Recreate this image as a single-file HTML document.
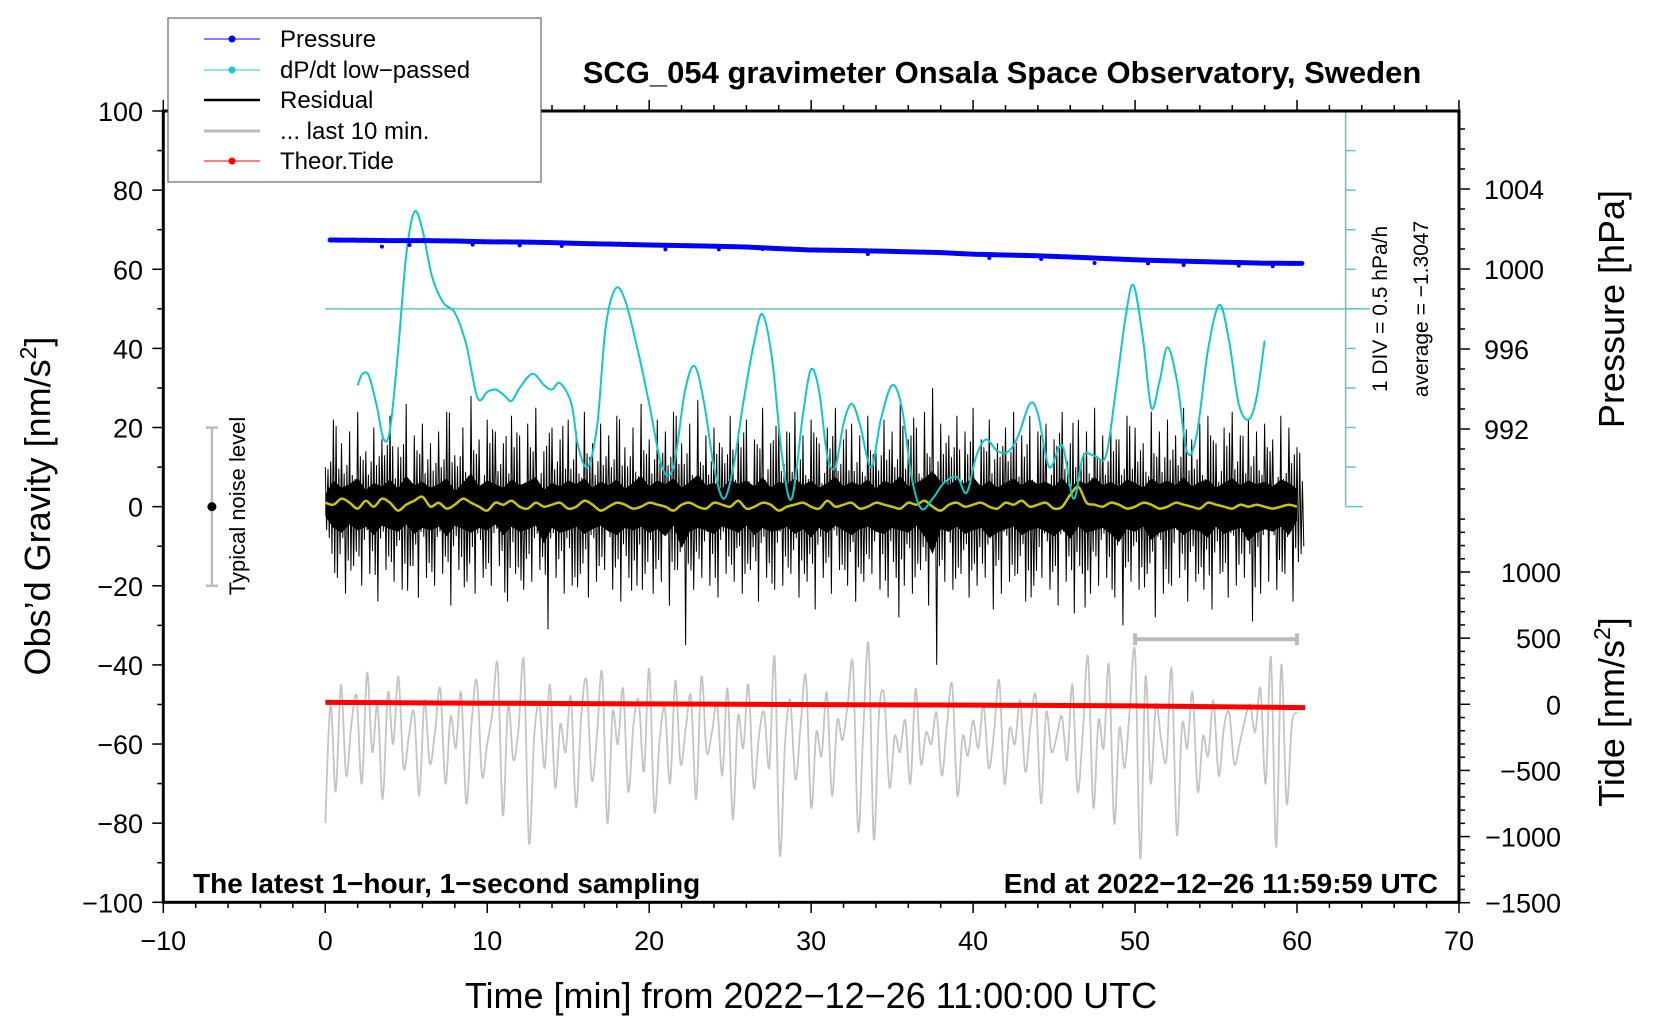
<!DOCTYPE html>
<html><head><meta charset="utf-8">
<style>
html,body{margin:0;padding:0;background:#fff;}
svg{display:block;font-family:"Liberation Sans",Arial,sans-serif;}
</style></head>
<body>
<svg id="chart" width="1660" height="1020" viewBox="0 0 1660 1020" xmlns="http://www.w3.org/2000/svg">
<rect width="1660" height="1020" fill="#fff"/>
<g id="ticks"></g>
<g id="marks"></g>
<rect x="163.3" y="111" width="1295.7" height="791.3" fill="none" stroke="#000" stroke-width="3"/>
<text x="1002" y="83" font-size="31" font-weight="bold" text-anchor="middle">SCG_054 gravimeter Onsala Space Observatory, Sweden</text>
<text transform="translate(50,506) rotate(-90)" font-size="36" text-anchor="middle">Obs’d Gravity [nm/s<tspan font-size="23" dy="-14">2</tspan><tspan dy="14">]</tspan></text>
<text x="811" y="1008" font-size="36" text-anchor="middle">Time [min] from 2022−12−26 11:00:00 UTC</text>
<text transform="translate(1624,309) rotate(-90)" font-size="36" text-anchor="middle">Pressure [hPa]</text>
<text transform="translate(1624,712) rotate(-90)" font-size="36" text-anchor="middle">Tide [nm/s<tspan font-size="23" dy="-14">2</tspan><tspan dy="14">]</tspan></text>
<text x="193" y="893" font-size="28" font-weight="bold">The latest 1−hour, 1−second sampling</text>
<text x="1438" y="893" font-size="28" font-weight="bold" text-anchor="end">End at 2022−12−26 11:59:59 UTC</text>
<text transform="translate(1387,309) rotate(-90)" font-size="21" text-anchor="middle">1 DIV = 0.5 hPa/h</text>
<text transform="translate(1428,309) rotate(-90)" font-size="21" text-anchor="middle">average = −1.3047</text>
<text transform="translate(245,506) rotate(-90)" font-size="22" text-anchor="middle">Typical noise level</text>
<g>
<rect x="168" y="18" width="373" height="164" fill="#fff" stroke="#666" stroke-width="1.2"/>
<g><line x1="204" y1="39" x2="260" y2="39" stroke="#00f" stroke-width="1"/><circle cx="232" cy="39" r="3.5" fill="#00f"/><text x="280" y="47" font-size="24">Pressure</text></g>
<g><line x1="204" y1="70" x2="260" y2="70" stroke="#2cc" stroke-width="1"/><circle cx="232" cy="70" r="3.5" fill="#1cc"/><text x="280" y="78" font-size="24">dP/dt low−passed</text></g>
<g><line x1="204" y1="100" x2="260" y2="100" stroke="#000" stroke-width="2.5"/><text x="280" y="108" font-size="24">Residual</text></g>
<g><line x1="204" y1="131" x2="260" y2="131" stroke="#bbb" stroke-width="3"/><text x="280" y="139" font-size="24">... last 10 min.</text></g>
<g><line x1="204" y1="161" x2="260" y2="161" stroke="#f00" stroke-width="1"/><circle cx="232" cy="161" r="3.5" fill="#f00"/><text x="280" y="169" font-size="24">Theor.Tide</text></g>
</g>
</svg>
<script>
// ---- data ----
const xTicks = [-10,0,10,20,30,40,50,60,70];
const yTicks = [100,80,60,40,20,0,-20,-40,-60,-80,-100];
const pTicks = [1004,1000,996,992];
const tTicks = [1000,500,0,-500,-1000,-1500];
const pressTimes = [0.3,2,4,6,8,10,12,14,16,18,20,22,24,26,28,30,32,34,36,38,40,42,44,46,48,50,52,54,56,58,60.3];
const pressVals = [1001.45,1001.44,1001.42,1001.42,1001.40,1001.36,1001.35,1001.32,1001.27,1001.24,1001.20,1001.17,1001.14,1001.10,1001.02,1000.95,1000.93,1000.90,1000.86,1000.82,1000.74,1000.70,1000.66,1000.60,1000.53,1000.46,1000.41,1000.37,1000.33,1000.29,1000.28];
const pressOutT = [3.5,5.2,9.1,12,14.6,21,24.3,27,33.5,41,44.2,47.5,50.8,53,56.4,58.5];
const pressOutV = [1001.12,1001.2,1001.22,1001.18,1001.15,1000.98,1000.98,1001.00,1000.75,1000.55,1000.5,1000.30,1000.28,1000.20,1000.17,1000.14];
const dpTimes = [2.0,2.3,2.7,3.2,3.6,4.0,4.5,5.0,5.5,6.0,6.6,7.3,8.0,8.7,9.4,10.0,10.5,11.0,11.5,12.0,12.8,13.5,14.0,14.5,15.2,15.6,16.2,16.8,17.3,17.9,18.5,19.3,20.0,20.8,21.5,22.2,22.8,23.4,24.0,24.6,25.2,25.8,26.5,27.0,27.6,28.2,28.8,29.5,30.0,30.5,31.0,31.5,32.0,32.5,33.0,33.7,34.3,35.0,35.6,36.2,36.8,37.5,38.2,39.0,39.6,40.2,40.8,41.5,42.2,42.8,43.5,44.0,44.7,45.5,46.2,46.8,47.5,48.2,48.8,49.4,49.9,50.5,51.0,51.5,52.0,52.6,53.2,53.8,54.5,55.2,55.8,56.4,57.0,57.5,58.0];
const dpGrav = [30.7,33.6,33,25,17,19.5,39.5,63.5,74.5,70,58,51.5,49,41,27.5,29,29.6,28.3,26.7,30,33.6,30.7,29.6,31.2,26,15.5,10,21,45,55,52.3,39.5,26,10,10,29,35.5,26,10,2,10,26,42,48.6,37,12.8,2,23.5,34.7,29,12.8,10,21,26,21,10,22,30.7,25,7.5,-0.5,2,6,7.5,3.5,12.8,17,14,14,18,26,23.5,10,15.5,2,12.8,12.8,12.8,29,47.5,56,42,25,31.5,40.3,31.5,14,18,39.5,51,42,26,22,27.5,42];
const resHi = [10,22,16,19,24,14,20,17,23,15,26,18,21,16,19,24,13,20,28,17,22,19,16,23,18,21,25,14,20,17,22,19,24,16,21,18,23,15,20,26,17,22,19,24,16,21,27,18,20,15,23,19,22,17,25,16,21,19,24,18,22,16,20,25,17,21,18,23,15,22,19,26,17,20,24,30,21,18,23,19,25,17,22,16,20,24,18,23,19,21,17,24,16,22,19,25,18,21,17,23,20,16,24,19,22,18,25,17,21,23,16,20,24,18,22,19,21,17,23,20,15];
const resLo = [-8,-18,-22,-15,-20,-17,-24,-16,-19,-21,-15,-23,-18,-20,-17,-25,-16,-19,-22,-18,-20,-15,-24,-17,-21,-19,-16,-31,-18,-22,-20,-17,-23,-19,-16,-21,-24,-18,-20,-17,-22,-19,-25,-16,-35,-21,-18,-20,-23,-17,-19,-22,-16,-24,-18,-21,-20,-17,-23,-19,-26,-18,-22,-16,-20,-24,-19,-17,-21,-23,-18,-20,-22,-16,-25,-40,-19,-21,-17,-23,-20,-18,-26,-22,-19,-17,-24,-20,-18,-21,-25,-19,-27,-17,-22,-20,-18,-23,-30,-19,-21,-17,-28,-22,-20,-18,-24,-19,-21,-26,-17,-23,-20,-18,-29,-22,-19,-21,-17,-24,-12];
const resSmooth = [1,0.5,2,1,-0.5,1.5,0,2,1,-1,0.5,1.5,2.5,0,1,-0.5,0.5,2,1,0,-1,1,0.5,1.5,0,-0.5,1,0,0.5,1,-0.5,0,1.5,0.5,-1,0,1,0.5,-0.5,0,1,0.5,0,-1,0.5,1,0,-0.5,1,0.5,0,1.5,-0.5,0,1,0.5,-1,0,0.5,1,0,-0.5,1.5,0,0.5,1,-0.5,0,1,0.5,0,-0.5,1,0.5,1.5,0,-1,0.5,1,0,0.5,1,0,-0.5,1,0.5,1.5,0,0.5,1,-0.5,0,3,5,1,0.5,0,1,0.5,-0.5,0,1,0.5,-0.5,0,1,0.5,0,-0.5,1,0.5,0,-0.5,0.5,0,0.5,0,-0.5,0,0.5,0];
const last10 = [-80,-50,-72,-45,-68,-55,-48,-70,-42,-62,-50,-74,-47,-60,-43,-66,-58,-52,-73,-49,-65,-57,-46,-70,-53,-61,-47,-75,-55,-44,-68,-60,-52,-40,-78,-50,-64,-56,-39,-85,-58,-50,-66,-45,-71,-55,-62,-48,-76,-53,-44,-69,-58,-42,-80,-52,-60,-46,-72,-55,-49,-67,-41,-77,-59,-51,-70,-44,-65,-56,-48,-74,-43,-62,-57,-50,-68,-46,-79,-53,-61,-45,-71,-58,-52,-66,-38,-88,-60,-49,-69,-55,-43,-76,-57,-63,-47,-73,-54,-59,-50,-40,-82,-56,-35,-84,-52,-48,-71,-58,-62,-54,-70,-46,-65,-57,-60,-52,-68,-55,-45,-73,-58,-63,-54,-61,-50,-66,-57,-44,-70,-56,-60,-49,-67,-55,-48,-75,-52,-62,-58,-53,-64,-45,-72,-57,-38,-76,-54,-61,-40,-80,-56,-66,-51,-37,-89,-43,-70,-50,-59,-64,-41,-83,-55,-61,-47,-72,-58,-63,-49,-68,-56,-52,-65,-60,-54,-50,-57,-46,-70,-38,-86,-40,-75,-55,-52];
const tideTimes = [0,10,20,30,40,50,60.5];
const tideVals = [14,8,3,-2,-6,-12,-25];

// ---- scales ----
const X = t => 163.3 + (t + 10) * 16.196;
const Y = g => 111 + (100 - g) * 3.9565;
const YP = p => 269 - (p - 1000) * 20;
const YT = v => 704.3 - v * 0.13228;
const NS = 'http://www.w3.org/2000/svg';
function mk(parent, tag, attrs){const e=document.createElementNS(NS,tag);for(const k in attrs)e.setAttribute(k,attrs[k]);parent.appendChild(e);return e;}
function smoothPath(P){
  let s='M'+P[0][0].toFixed(1)+' '+P[0][1].toFixed(1);
  for(let i=0;i<P.length-1;i++){
    const p0=P[Math.max(0,i-1)],p1=P[i],p2=P[i+1],p3=P[Math.min(P.length-1,i+2)];
    const c1x=p1[0]+(p2[0]-p0[0])/6,c1y=p1[1]+(p2[1]-p0[1])/6;
    const c2x=p2[0]-(p3[0]-p1[0])/6,c2y=p2[1]-(p3[1]-p1[1])/6;
    s+='C'+c1x.toFixed(1)+' '+c1y.toFixed(1)+' '+c2x.toFixed(1)+' '+c2y.toFixed(1)+' '+p2[0].toFixed(1)+' '+p2[1].toFixed(1);
  }
  return s;
}
const ticks = document.getElementById('ticks');
const marks = document.getElementById('marks');

for (let t=-10;t<=70;t+=2){
  const maj = t%10===0, len = maj?11:6;
  const tb = mk(ticks,'line',{x1:X(t),x2:X(t),y1:902,y2:902+len,stroke:'#000','stroke-width':1.5});
  
  
  const tt = mk(ticks,'line',{x1:X(t),x2:X(t),y1:111,y2:111-len,stroke:'#000','stroke-width':1.5});
  
  
}
xTicks.forEach(t=>{
  const e = mk(ticks,'text',{x:X(t),y:950,'font-size':27,'text-anchor':'middle'});
  e.textContent = t<0 ? '−'+Math.abs(t) : String(t);
  
  
});
for (let g=-100; g<=100; g+=10){
  const maj = g%20===0;
  const e = mk(ticks,'line',{x1:163.3-(maj?11:6),x2:163.3,y1:Y(g),y2:Y(g),stroke:'#000','stroke-width':1.5});
  
  
}
yTicks.forEach(g=>{
  const e = mk(ticks,'text',{x:143,y:Y(g)+10,'font-size':27,'text-anchor':'end'});
  e.textContent = g<0 ? '−'+Math.abs(g) : String(g);
  
  
});
for (let p=989; p<=1007; p++){
  const maj = p%4===0;
  const e = mk(ticks,'line',{x1:1459,x2:1459+(maj?11:6),y1:YP(p),y2:YP(p),stroke:'#000','stroke-width':1.5});
  
  
}
pTicks.forEach(p=>{
  const e = mk(ticks,'text',{x:1484,y:YP(p)+10,'font-size':27});
  e.textContent = String(p);
  
  
});
for (let v=-1500; v<=1400; v+=100){
  const maj = v%500===0;
  const e = mk(ticks,'line',{x1:1459,x2:1459+(maj?11:6),y1:YT(v),y2:YT(v),stroke:'#000','stroke-width':1.5});
  
  
}
tTicks.forEach(v=>{
  const e = mk(ticks,'text',{x:1561,y:YT(v)+10,'font-size':27,'text-anchor':'end'});
  e.textContent = v<0 ? '−'+Math.abs(v) : String(v);
  
  
});
const cax = mk(ticks,'line',{x1:X(63),x2:X(63),y1:Y(100),y2:Y(0),stroke:'#5cc8c0','stroke-width':1.5});


for (let g=0; g<=100; g+=10){
  const maj = (g===0||g===100);
  const e = mk(ticks,'line',{x1:X(63),x2:X(63)+(maj?17:10),y1:Y(g),y2:Y(g),stroke:'#5cc8c0','stroke-width':1.5});
  
  
}
const avg = mk(marks,'line',{x1:X(0),x2:X(64.5),y1:Y(50),y2:Y(50),stroke:'#5cc8c0','stroke-width':1.5});



const nb = mk(marks,'g',{stroke:'#bbb','stroke-width':2.5});


mk(nb,'line',{x1:X(-7),x2:X(-7),y1:Y(20),y2:Y(-20)});
mk(nb,'line',{x1:X(-7)-6,x2:X(-7)+6,y1:Y(20),y2:Y(20)});
mk(nb,'line',{x1:X(-7)-6,x2:X(-7)+6,y1:Y(-20),y2:Y(-20)});
const nd = mk(marks,'circle',{cx:X(-7),cy:Y(0),r:4.5,fill:'#000'});



const lb = mk(marks,'g',{stroke:'#bbb','stroke-width':4});


mk(lb,'line',{x1:X(50),x2:X(60),y1:Y(-33.5),y2:Y(-33.5)});
mk(lb,'line',{x1:X(50),x2:X(50),y1:Y(-33.5)-6,y2:Y(-33.5)+6});
mk(lb,'line',{x1:X(60),x2:X(60),y1:Y(-33.5)-6,y2:Y(-33.5)+6});

const gP = last10.map((v,i)=>[X(i*60/(last10.length-1)),Y(v)]);
const gl = mk(marks,'path',{d:smoothPath(gP),fill:'none',stroke:'#c4c4c4','stroke-width':1.8});



let d='';
tideTimes.forEach((t,i)=>{d+=(i?'L':'M')+X(t).toFixed(1)+' '+YT(tideVals[i]).toFixed(1);});
const tl = mk(marks,'path',{d:d,fill:'none',stroke:'#f00','stroke-width':5});



// residual: zigzag mixing neighbouring bins for irregular look
const n = resHi.length;
let core='', coreB='';
d='';
const fr = [0.35,0.7,0.5,0.85,0.6,0.4,0.75];
for (let i=0;i<n;i++){
  const t0 = i*60/(n-1), dt = 60/(n-1)/6;
  const a=resHi[(i+3)%n], b=resLo[(i+5)%n];
  const pts=[resHi[i],b*fr[i%7],a*fr[(i+2)%7],resLo[i],a*fr[(i+4)%7],b*fr[(i+1)%7]];
  pts.forEach((v,k)=>{d+=((i||k)?'L':'M')+X(t0+k*dt).toFixed(1)+' '+Y(v).toFixed(1);});
  core += (i?'L':'M')+X(t0).toFixed(1)+' '+Y(resHi[i]*0.3).toFixed(1);
}
for (let i=n-1;i>=0;i--){ const t0=i*60/(n-1); coreB += 'L'+X(t0).toFixed(1)+' '+Y(resLo[i]*0.3).toFixed(1); }
const rc = mk(marks,'path',{d:core+coreB+'Z',fill:'#000'});


const rl = mk(marks,'path',{d:d,fill:'none',stroke:'#000','stroke-width':1});



const yP = resSmooth.map((v,i)=>[X(i*60/(resSmooth.length-1)),Y(v)]);
const ys = mk(marks,'path',{d:smoothPath(yP),fill:'none',stroke:'#c8c800','stroke-width':2.5});



const cP = dpTimes.map((t,i)=>[X(t),Y(dpGrav[i])]);
const dp = mk(marks,'path',{d:smoothPath(cP),fill:'none',stroke:'#10c8c8','stroke-width':2,'stroke-linejoin':'round'});



d='';
pressTimes.forEach((t,i)=>{d+=(i?'L':'M')+X(t).toFixed(1)+' '+YP(pressVals[i]).toFixed(1);});
const pl = mk(marks,'path',{d:d,fill:'none',stroke:'#00f','stroke-width':5,'stroke-linecap':'round','stroke-dasharray':'3 1.5'});


pressOutT.forEach((t,i)=>{
  const c = mk(marks,'circle',{cx:X(t),cy:YP(pressOutV[i]),r:2,fill:'#00f'});
  
  
});
</script>
</body></html>
